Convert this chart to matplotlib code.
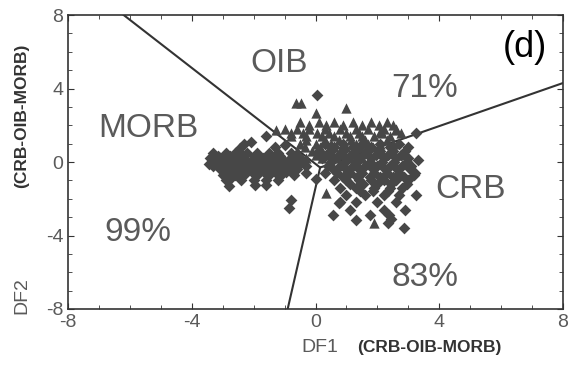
import matplotlib
matplotlib.use("Agg")
import matplotlib.pyplot as plt
from matplotlib.ticker import MultipleLocator

plt.rcParams['font.family'] = ['Liberation Sans', 'DejaVu Sans']
plt.rcParams['axes.unicode_minus'] = False

# Field boundaries: common point and the three end points on the frame
centre = (0.15, -0.3)
bound_ends = [(-6.2, 8.0), (8.0, 4.3), (-0.9, -8.0)]

# Field names and success rates (x, y, text)
field_labels = [(-1.17, 5.38, "OIB"), (3.53, 4.02, "71%"), (-5.4, 1.85, "MORB"),
                (5.0, -1.52, "CRB"), (-5.73, -3.86, "99%"), (3.53, -6.3, "83%")]

# Samples plotted as diamonds (DF1, DF2)
dia_x = [-3.3, -2.9, -2.6, -2.2, -1.9, -1.5, -1.2, -0.8,
         -3.4, -3.1, -2.8, -2.5, -2.3, -2.0, -1.7, -1.4, -1.1, -0.8, -0.5,
         -3.2, -2.9, -2.7, -2.4, -2.1, -1.9, -1.6, -1.3, -1.0, -0.7, -0.4,
         -3.3, -3.0, -2.7, -2.5, -2.2, -1.9, -1.7, -1.4, -1.1, -0.9, -0.6, -0.3,
         -3.1, -2.8, -2.5, -2.3, -2.0, -1.8, -1.5, -1.2, -0.9, -0.6,
         -3.0, -2.6, -2.3, -1.9, -1.5, -1.1, -0.7,
         -2.9, -2.4, -2.0, -1.6, -1.2,
         -3.15, -2.75, -2.35, -1.95, -1.55, -1.15, -0.65,
         -3.25, -2.85, -2.45, -2.05, -1.65, -1.25, -0.85, -0.55,
         -3.05, -2.65, -2.25, -1.85, -1.45, -1.05, -0.75,
         -2.85, -2.45, -2.05, -1.65, -1.3, -0.95,
         -2.8, -1.95, -1.6, -2.3, -2.1, -1.6, -1.0, -1.3, -0.8, -0.85, -3.45, -2.75, -2.45,
         0.3, 0.9, 1.5, 2.1, 2.7,
         0.1, 0.5, 0.9, 1.3, 1.7, 2.1, 2.5, 2.9,
         0.2, 0.6, 1.0, 1.4, 1.8, 2.2, 2.6, 3.0,
         0.4, 0.8, 1.2, 1.6, 2.0, 2.4, 2.8, 3.1,
         0.3, 0.7, 1.1, 1.5, 1.9, 2.3, 2.7, 3.2,
         0.6, 1.0, 1.4, 1.8, 2.2, 2.6, 3.0,
         0.8, 1.3, 1.9, 2.4, 2.8,
         1.0, 1.6, 2.2, 2.7, 3.25,
         0.8, 1.3, 2.0, 2.6,
         1.1, 2.2, 2.9,
         0.6, 1.2, 1.8, 2.4, 3.0,
         0.35, 0.75, 1.15, 1.55, 1.95, 2.35, 2.75,
         0.5, 0.95, 1.35, 1.75, 2.15, 2.55, 2.95,
         0.55, 1.0, 1.4, 1.85, 2.25, 2.65, 3.05,
         0.9, 1.35, 1.75, 2.1, 2.5, 2.85,
         1.1, 1.55, 2.0, 2.45, 2.95,
         1.45, 1.85, 2.35,
         0.55, 1.3, 2.38, 2.33, 2.87, 0.77, 3.19, 3.24, 0.04, -0.3, 0.0, 3.3, 1.75, 2.45]
dia_y = [0.5, 0.5, 0.5, 0.5, 0.5, 0.5, 0.5, 0.5,
         0.2, 0.2, 0.2, 0.2, 0.2, 0.2, 0.2, 0.2, 0.2, 0.2, 0.2,
         0.0, 0.0, 0.0, 0.0, 0.0, 0.0, 0.0, 0.0, 0.0, 0.0, 0.0,
         -0.2, -0.2, -0.2, -0.2, -0.2, -0.2, -0.2, -0.2, -0.2, -0.2, -0.2, -0.2,
         -0.4, -0.4, -0.4, -0.4, -0.4, -0.4, -0.4, -0.4, -0.4, -0.4,
         -0.7, -0.7, -0.7, -0.7, -0.7, -0.7, -0.7,
         -1.0, -1.0, -1.0, -1.0, -1.0,
         0.35, 0.35, 0.35, 0.35, 0.35, 0.35, 0.35,
         0.1, 0.1, 0.1, 0.1, 0.1, 0.1, 0.1, 0.1,
         -0.3, -0.3, -0.3, -0.3, -0.3, -0.3, -0.3,
         -0.55, -0.55, -0.55, -0.55, -0.55, -0.55,
         -1.3, -1.25, -1.25, 1.0, 1.1, 1.4, 0.9, 0.8, -2.05, -2.5, -0.1, -0.9, 0.75,
         1.0, 1.0, 1.0, 1.0, 1.0,
         0.6, 0.6, 0.6, 0.6, 0.6, 0.6, 0.6, 0.6,
         0.2, 0.2, 0.2, 0.2, 0.2, 0.2, 0.2, 0.2,
         -0.2, -0.2, -0.2, -0.2, -0.2, -0.2, -0.2, -0.2,
         -0.6, -0.6, -0.6, -0.6, -0.6, -0.6, -0.6, -0.6,
         -1.0, -1.0, -1.0, -1.0, -1.0, -1.0, -1.0,
         -1.4, -1.4, -1.4, -1.4, -1.4,
         -1.8, -1.8, -1.8, -1.8, -1.8,
         -2.2, -2.2, -2.2, -2.2,
         -2.6, -2.6, -2.6,
         0.8, 0.8, 0.8, 0.8, 0.8,
         0.4, 0.4, 0.4, 0.4, 0.4, 0.4, 0.4,
         0.0, 0.0, 0.0, 0.0, 0.0, 0.0, 0.0,
         -0.4, -0.4, -0.4, -0.4, -0.4, -0.4, -0.4,
         -0.8, -0.8, -0.8, -0.8, -0.8, -0.8,
         -1.2, -1.2, -1.2, -1.2, -1.2,
         -1.6, -1.6, -1.6,
         -2.9, -3.15, -2.9, -3.33, -3.6, -2.25, -0.7, 1.58, 3.64, -0.6, -0.9, 0.1, -2.9, -3.1]

# Samples plotted as triangles (DF1, DF2)
tri_x = [-0.5, 0.1, 0.6, 1.2, 1.8, 2.3,
         -1.0, -0.6, -0.2, 0.3, 0.8, 1.3, 1.7, 2.2, 2.6,
         -0.8, -0.3, 0.2, 0.6, 1.1, 1.5, 1.9, 2.4,
         -0.5, 0.0, 0.5, 0.9, 1.3, 1.7, 2.1, 2.5,
         -0.6, -0.1, 0.4, 0.8, 1.2, 1.6, 2.0,
         -0.3, 0.2, 0.7, 1.1, 1.5,
         -0.2, 0.35, 0.9, 1.5, 2.05, 2.5,
         -0.8, -0.4, 0.05, 0.45, 1.0, 1.4, 2.15, 2.75,
         -0.3, 0.3, 0.75, 1.15, 1.6, 2.3,
         -0.35, 0.15, 0.6, 1.0, 1.45, 1.85,
         0.0, 0.5, 0.95, 1.35,
         -0.47, -0.62, 0.01, 0.98, 2.6, 2.1, -1.29, 0.33, 1.9, 2.8]
tri_y = [2.2, 2.2, 2.2, 2.2, 2.2, 2.2,
         1.8, 1.8, 1.8, 1.8, 1.8, 1.8, 1.8, 1.8, 1.8,
         1.4, 1.4, 1.4, 1.4, 1.4, 1.4, 1.4, 1.4,
         1.0, 1.0, 1.0, 1.0, 1.0, 1.0, 1.0, 1.0,
         0.6, 0.6, 0.6, 0.6, 0.6, 0.6, 0.6,
         0.2, 0.2, 0.2, 0.2, 0.2,
         2.0, 2.0, 2.0, 2.0, 2.0, 2.0,
         1.6, 1.6, 1.6, 1.6, 1.6, 1.6, 1.6, 1.6,
         1.2, 1.2, 1.2, 1.2, 1.2, 1.2,
         0.8, 0.8, 0.8, 0.8, 0.8, 0.8,
         0.4, 0.4, 0.4, 0.4,
         3.19, 3.2, 2.65, 2.92, 1.74, 1.65, 1.74, -1.7, -3.3, 0.4]

fig = plt.figure(figsize=(5.69, 3.74), dpi=100)
ax = fig.add_axes([0.1195, 0.1738, 0.870, 0.786])

mark_col = '#474747'
ax.scatter(dia_x, dia_y, marker='D', s=36, color=mark_col, linewidths=0, zorder=3)
ax.scatter(tri_x, tri_y, marker='^', s=55, color=mark_col, linewidths=0, zorder=3)

for ex, ey in bound_ends:
    ax.plot([centre[0], ex], [centre[1], ey], color='#333333', lw=1.5, zorder=2)

text_col = '#5a5a5a'
for tx, ty, s in field_labels:
    ax.text(tx, ty, s, fontsize=24, color=text_col, ha='center', va='center')
ax.text(6.76, 6.25, "(d)", fontsize=26, color='black', ha='center', va='center')

ax.set_xlim(-8, 8)
ax.set_ylim(-8, 8)
ax.xaxis.set_major_locator(MultipleLocator(4))
ax.yaxis.set_major_locator(MultipleLocator(4))
ax.xaxis.set_minor_locator(MultipleLocator(1))
ax.yaxis.set_minor_locator(MultipleLocator(1))
ax.tick_params(which='both', direction='in', top=True, right=True,
               colors='#333333', labelcolor=text_col, labelsize=14)
ax.tick_params(which='major', length=4)
ax.tick_params(which='minor', length=3)
for sp in ax.spines.values():
    sp.set_color('#333333')
    sp.set_linewidth(1.2)

# axis titles in two parts: plain name plus bold scheme
fig.text(0.562, 0.072, "DF1", fontsize=14, color=text_col, ha='center', va='center')
fig.text(0.755, 0.072, "(CRB-OIB-MORB)", fontsize=12.5, fontweight='bold',
         color='#333333', ha='center', va='center')
fig.text(0.038, 0.21, "DF2", fontsize=14, color=text_col, ha='center', va='center',
         rotation=90)
fig.text(0.038, 0.69, "(CRB-OIB-MORB)", fontsize=12.5, fontweight='bold',
         color='#333333', ha='center', va='center', rotation=90)

fig.savefig("out.png", dpi=100)
